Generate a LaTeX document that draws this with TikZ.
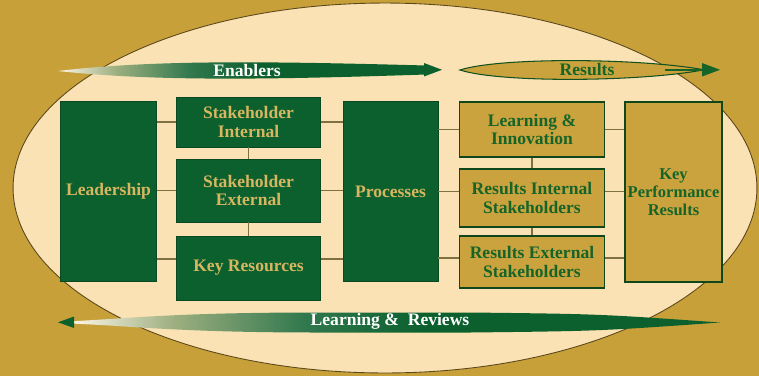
\documentclass[tikz,border=0pt]{standalone}
\usepackage{fontspec}
\setmainfont{Liberation Serif}
\definecolor{bgGold}{RGB}{200,160,58}
\definecolor{ovalCream}{RGB}{251,226,180}
\definecolor{efqmGreen}{RGB}{12,96,46}
\definecolor{efqmGold}{RGB}{203,163,62}
\definecolor{txtGold}{RGB}{214,182,96}
\definecolor{txtGreen}{RGB}{22,100,40}
\definecolor{linkGray}{RGB}{125,112,66}
\pgfdeclarehorizontalshading{bannerfade}{100bp}{%
  color(0bp)=(ovalCream!30!white); color(25bp)=(ovalCream!30!white);
  color(33bp)=(efqmGreen!40!ovalCream); color(43bp)=(efqmGreen!85!white);
  color(52bp)=(efqmGreen); color(100bp)=(efqmGreen)}

\begin{document}
\begin{tikzpicture}[x=0.02cm,y=-0.02cm,
    greenbox/.style={draw=efqmGreen!75!black,line width=0.5pt,fill=efqmGreen,
                     text=txtGold,align=center,inner sep=1pt,
                     font=\fontsize{10}{10.5}\selectfont\bfseries},
    goldbox/.style={draw=txtGreen!70!black,line width=0.6pt,fill=efqmGold,
                    text=txtGreen,align=center,inner sep=1pt,
                    font=\fontsize{10}{10.5}\selectfont\bfseries},
    link/.style={draw=linkGray,line width=0.9pt},
    banner/.style={font=\fontsize{10}{12}\selectfont\bfseries},
  ]
    \fill[bgGold] (0,0) rectangle (759,376);
    \useasboundingbox (0,0) rectangle (759,376);
    \draw[fill=ovalCream,draw=bgGold!45!black,line width=0.5pt]
      (385,188) ellipse [x radius=7.44cm, y radius=3.7cm];

    % enablers
    \node[greenbox,minimum width=1.92cm,minimum height=3.6cm] (lead)   at (108.5,191.5) {Leadership};
    \node[greenbox,minimum width=2.88cm,minimum height=1cm]    (sint)   at (248.5,122)   {Stakeholder\\Internal};
    \node[greenbox,minimum width=2.88cm,minimum height=1.26cm] (sext)   at (248.5,190.5) {Stakeholder\\External};
    \node[greenbox,minimum width=2.88cm,minimum height=1.28cm] (keyres) at (248.5,268)   {Key Resources};
    \node[greenbox,minimum width=1.9cm,minimum height=3.6cm]   (proc)   at (390.5,191.5) {Processes};

    % results
    \node[goldbox,minimum width=2.9cm,minimum height=1.1cm]  (learn) at (532,129.5) {Learning \&\\Innovation};
    \node[goldbox,minimum width=2.9cm,minimum height=1.16cm] (rint)  at (532,198)   {Results Internal\\Stakeholders};
    \node[goldbox,minimum width=2.9cm,minimum height=1.04cm] (rext)  at (532,262)   {Results External\\Stakeholders};
    \node[goldbox,minimum width=1.94cm,minimum height=3.6cm,
          font=\fontsize{9.4}{10.2}\selectfont\bfseries] (kpr) at (673.5,192) {Key\\Performance\\Results};

    \foreach \n in {sint.west,sext.west,keyres.173}
      \draw[link] (lead.east |- \n) -- (\n);
    \foreach \n in {sint.east,sext.east,keyres.7}
      \draw[link] (\n) -- (proc.west |- \n);
    \foreach \n in {learn.west,rint.175,rext.177}
      \draw[link] (proc.east |- \n) -- (\n);
    \foreach \n in {learn.east,rint.5,rext.3}
      \draw[link] (\n) -- (kpr.west |- \n);
    \draw[link] (sint.south) -- (sext.north);
    \draw[link] (sext.south) -- (keyres.north);
    \draw[link] (learn.south) -- (rint.north);
    \draw[link] (rint.south) -- (rext.north);

    % banners
    \shade[shading=bannerfade] (58,71) .. controls (150,60) and (260,61) .. (426,65.5)
      -- (426,74.5) .. controls (260,80) and (150,81) .. (58,71) -- cycle;
    \fill[efqmGreen] (424,63) -- (442,69.8) -- (424,76.5) -- cycle;
    \node[banner,text=white] (enab) at (247,70) {Enablers};

    \draw[fill=efqmGold,draw=txtGreen!80!black,line width=0.6pt]
      (460,70) .. controls (500,57) and (640,58) .. (704,69.8)
      .. controls (640,82) and (500,83) .. (460,70) -- cycle;
    \draw[txtGreen,line width=0.8pt] (665,69.8) -- (705,69.8);
    \fill[txtGreen] (702,63) -- (720,69.8) -- (702,76.5) -- cycle;
    \node[banner,text=txtGreen] (resl) at (587,70) {Results};

    \shade[shading=bannerfade] (72,321.3) -- (110,319) .. controls (180,314) and (240,312.5) .. (320,312.5)
      -- (470,312.5) .. controls (600,314) .. (720,322.5)
      .. controls (600,331) .. (470,332.5) -- (320,332.5)
      .. controls (240,332.5) and (180,330.5) .. (110,325.5) -- (72,323.5) -- cycle;
    \fill[efqmGreen] (74,316.5) -- (58,322.3) -- (74,328) -- cycle;
    \node[banner,text=white] (lrev) at (390,321) {Learning \& \ Reviews};
\end{tikzpicture}
\end{document}
